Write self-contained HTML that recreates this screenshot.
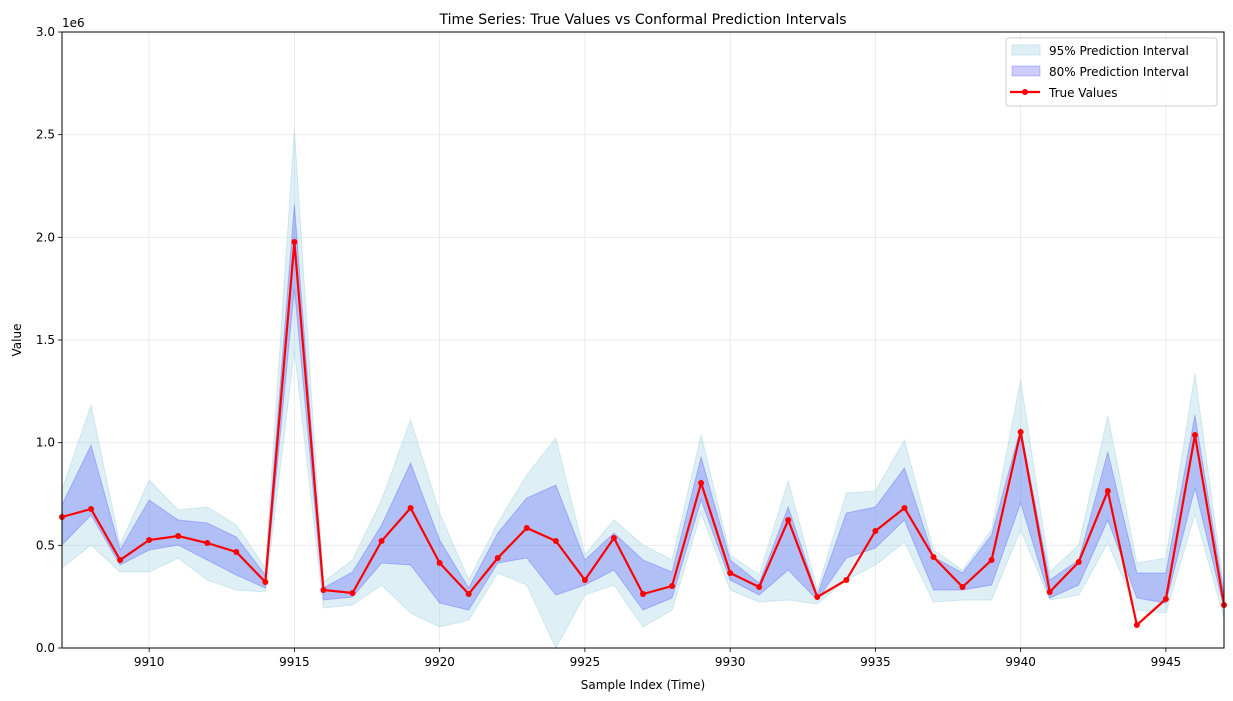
<!DOCTYPE html>
<html><head><meta charset="utf-8"><style>
html,body{margin:0;padding:0;background:#fff;}
svg{display:block;font-family:"DejaVu Sans","Liberation Sans",sans-serif;}
</style></head><body>
<svg id="s" width="1233" height="701" viewBox="0 0 1233 701" xmlns="http://www.w3.org/2000/svg">
<rect width="1233" height="701" fill="#fff"/>
<g id="grid" stroke="#b0b0b0" stroke-opacity="0.3" stroke-width="0.8"></g>
<path id="p95" fill="#add8e6" fill-opacity="0.4" stroke="#add8e6" stroke-opacity="0.5" stroke-width="1"/>
<path id="p80" fill="#0000ff" fill-opacity="0.2" stroke="#0000ff" stroke-opacity="0.2" stroke-width="1"/>
<polyline id="tl" fill="none" stroke="#ff0000" stroke-width="2.2"/>
<g id="dots" fill="#ff0000"></g>
<rect x="62" y="32" width="1162" height="616" fill="none" stroke="#000" stroke-width="1"/>
<g id="ticks" stroke="#000" stroke-width="0.8"></g>
<g id="labels" font-size="12" fill="#000"></g>
<text x="643" y="24" font-size="14" text-anchor="middle">Time Series: True Values vs Conformal Prediction Intervals</text>
<text x="643" y="689" font-size="12" text-anchor="middle">Sample Index (Time)</text>
<text transform="translate(21,340) rotate(-90)" font-size="12" text-anchor="middle">Value</text>
<text x="62" y="27" font-size="12">1e6</text>
<g>
<rect x="1006" y="38" width="211" height="68" rx="3" fill="#fff" fill-opacity="0.8" stroke="#ccc"/>
<rect x="1012" y="45" width="28" height="10" fill="#add8e6" fill-opacity="0.4" stroke="#add8e6" stroke-opacity="0.5"/>
<text x="1049" y="55" font-size="12">95% Prediction Interval</text>
<rect x="1012" y="66" width="28" height="10" fill="#0000ff" fill-opacity="0.2" stroke="#0000ff" stroke-opacity="0.2"/>
<text x="1049" y="76" font-size="12">80% Prediction Interval</text>
<line x1="1010" y1="92" x2="1040" y2="92" stroke="#f00" stroke-width="2.2"/>
<circle cx="1025" cy="92" r="3" fill="#f00"/>
<text x="1049" y="97" font-size="12">True Values</text>
</g>
</svg>
<script>
var X=i=>62+(i)*29.05;
var tv=[517,509,560,540,536,543,552,582,242,590,593,541,508,563,594,558,528,541,580,538,594,586,483,573,587,520,597,580,531,508,557,587,560,432,592,562,491,625,599,435,605];
var u80=[505,445,550,500,520,523,537,575,204,588,572,525,463,540,588,533,498,485,560,533,560,572,457,560,583,507,595,513,507,468,557,573,535,428,580,560,452,573,573,415,595];
var l80=[545,515,565,550,545,560,575,588,289,600,597,563,565,603,610,563,558,595,585,570,610,598,500,580,595,570,600,558,548,520,590,590,585,503,598,585,520,598,603,488,608];
var u95=[490,405,545,480,510,507,525,568,130,582,560,500,420,513,580,523,475,438,555,520,545,560,435,555,575,481,590,493,491,440,550,570,530,380,572,545,416,563,558,374,590];
var l95=[568,545,572,572,558,580,590,592,350,608,605,585,613,627,620,573,585,648,595,585,627,610,513,590,602,600,604,580,565,542,602,600,600,530,600,595,543,610,613,514,618];
function band(u,l){var d="M";for(var i=0;i<u.length;i++)d+=X(i)+","+u[i]+" L";for(var i=l.length-1;i>=0;i--)d+=X(i)+","+l[i]+(i?" L":" Z");return d;}
document.getElementById("p95").setAttribute("d",band(u95,l95));
document.getElementById("p80").setAttribute("d",band(u80,l80));
document.getElementById("tl").setAttribute("points",tv.map((y,i)=>X(i)+","+y).join(" "));
var NS="http://www.w3.org/2000/svg",g=document.getElementById("dots");
function el(t,a,p){var e=document.createElementNS(NS,t);for(var k in a)e.setAttribute(k,a[k]);p.appendChild(e);return e;}
tv.forEach((y,i)=>el("circle",{cx:X(i),cy:y,r:3},g));
var gr=document.getElementById("grid"),tk=document.getElementById("ticks"),lb=document.getElementById("labels");
for(var v=9910;v<=9945;v+=5){var x=X(v-9907);el("line",{x1:x,x2:x,y1:32,y2:648},gr);el("line",{x1:x,x2:x,y1:648,y2:652},tk);var t=el("text",{x:x,y:666,"text-anchor":"middle"},lb);t.textContent=v;}
for(var k=0;k<=6;k++){var y=648-k*0.5*205.33;el("line",{x1:62,x2:1224,y1:y,y2:y},gr);el("line",{x1:58,x2:62,y1:y,y2:y},tk);var t=el("text",{x:55,y:y+4,"text-anchor":"end"},lb);t.textContent=(k*0.5).toFixed(1);}
</script>
</body></html>
